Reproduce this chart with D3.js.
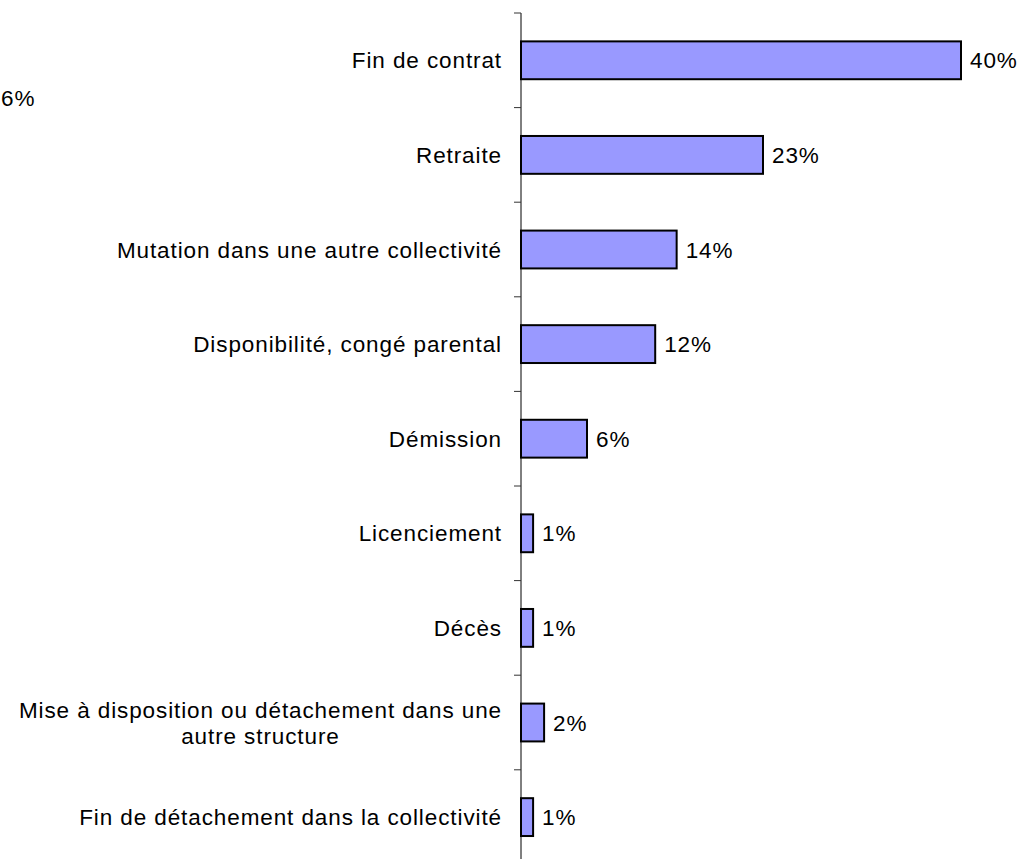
<!DOCTYPE html>
<html>
<head>
<meta charset="utf-8">
<script src="https://cdn.jsdelivr.net/npm/d3@7"></script>
<style>
  body { margin: 0; background: #fff; }
  svg text { font-family: "Liberation Sans", Arial, sans-serif; font-size: 22.5px; letter-spacing: 0.9px; fill: #000; }
</style>
</head>
<body>
<svg id="chart" width="1021" height="859"></svg>
<script>
/* Categories, top to bottom (second line of a label after the "|") */
var categories = [
    "Fin de contrat",
    "Retraite",
    "Mutation dans une autre collectivité",
    "Disponibilité, congé parental",
    "Démission",
    "Licenciement",
    "Décès",
    "Mise à disposition ou détachement dans une|autre structure",
    "Fin de détachement dans la collectivité"
];

/* Bar lengths (percent) */
var values = [40, 22, 14.15, 12.2, 6, 1.1, 1.1, 2.1, 1.1];

/* Data labels as printed on the chart */
var valueLabels = ["40%", "23%", "14%", "12%", "6%", "1%", "1%", "2%", "1%"];

/* Stray label left over at the top left of the original picture */
var strayLabel = "6%";

var svg = d3.select("#chart");

var x = d3.scaleLinear()
    .domain([0, 40])
    .range([521, 961]);

var y = d3.scaleBand()
    .domain(categories)
    .range([13, 864.4])
    .paddingInner(0.6)
    .paddingOuter(0.3);

// Bars
svg.selectAll("rect.bar")
    .data(categories)
    .enter().append("rect")
    .attr("class", "bar")
    .attr("x", x(0))
    .attr("y", function(c) { return y(c); })
    .attr("width", function(c, i) { return x(values[i]) - x(0); })
    .attr("height", y.bandwidth())
    .attr("fill", "#9999ff")
    .attr("stroke", "#000")
    .attr("stroke-width", 2);

// Axis line and ticks between categories
svg.append("line")
    .attr("x1", x(0)).attr("x2", x(0))
    .attr("y1", y.range()[0]).attr("y2", y.range()[1])
    .attr("stroke", "#000")
    .attr("stroke-width", 1);

var boundaries = d3.range(categories.length + 1).map(function(i) { return y.range()[0] + i * y.step(); });
svg.selectAll("line.tick")
    .data(boundaries)
    .enter().append("line")
    .attr("class", "tick")
    .attr("x1", x(0) - 7).attr("x2", x(0))
    .attr("y1", function(b) { return b; })
    .attr("y2", function(b) { return b; })
    .attr("stroke", "#333")
    .attr("stroke-width", 1);

// Category labels
svg.selectAll("text.cat")
    .data(categories)
    .enter().append("text")
    .attr("class", "cat")
    .each(function(c) {
        var t = d3.select(this);
        var lines = c.split("|");
        var cy = y(c) + y.bandwidth() / 2;
        var lineH = 26;
        var first = cy - (lines.length - 1) * lineH / 2;
        if (lines.length == 1) {
            t.attr("x", 502).attr("y", first).attr("dy", "0.36em")
                .attr("text-anchor", "end").text(c);
        } else {
            var l1 = t.append("tspan").attr("x", 502).attr("y", first).attr("dy", "0.36em")
                .attr("text-anchor", "end").text(lines[0]);
            var w = l1.node().getComputedTextLength();
            t.append("tspan").attr("x", 502 - w / 2).attr("y", first + lineH).attr("dy", "0.36em")
                .attr("text-anchor", "middle").text(lines[1]);
        }
    });

// Value labels
svg.selectAll("text.val")
    .data(categories)
    .enter().append("text")
    .attr("class", "val")
    .attr("x", function(c, i) { return x(values[i]) + 9; })
    .attr("y", function(c) { return y(c) + y.bandwidth() / 2; })
    .attr("dy", "0.36em")
    .text(function(c, i) { return valueLabels[i]; });

svg.append("text")
    .attr("x", 1)
    .attr("y", 106)
    .text(strayLabel);
</script>
</body>
</html>
